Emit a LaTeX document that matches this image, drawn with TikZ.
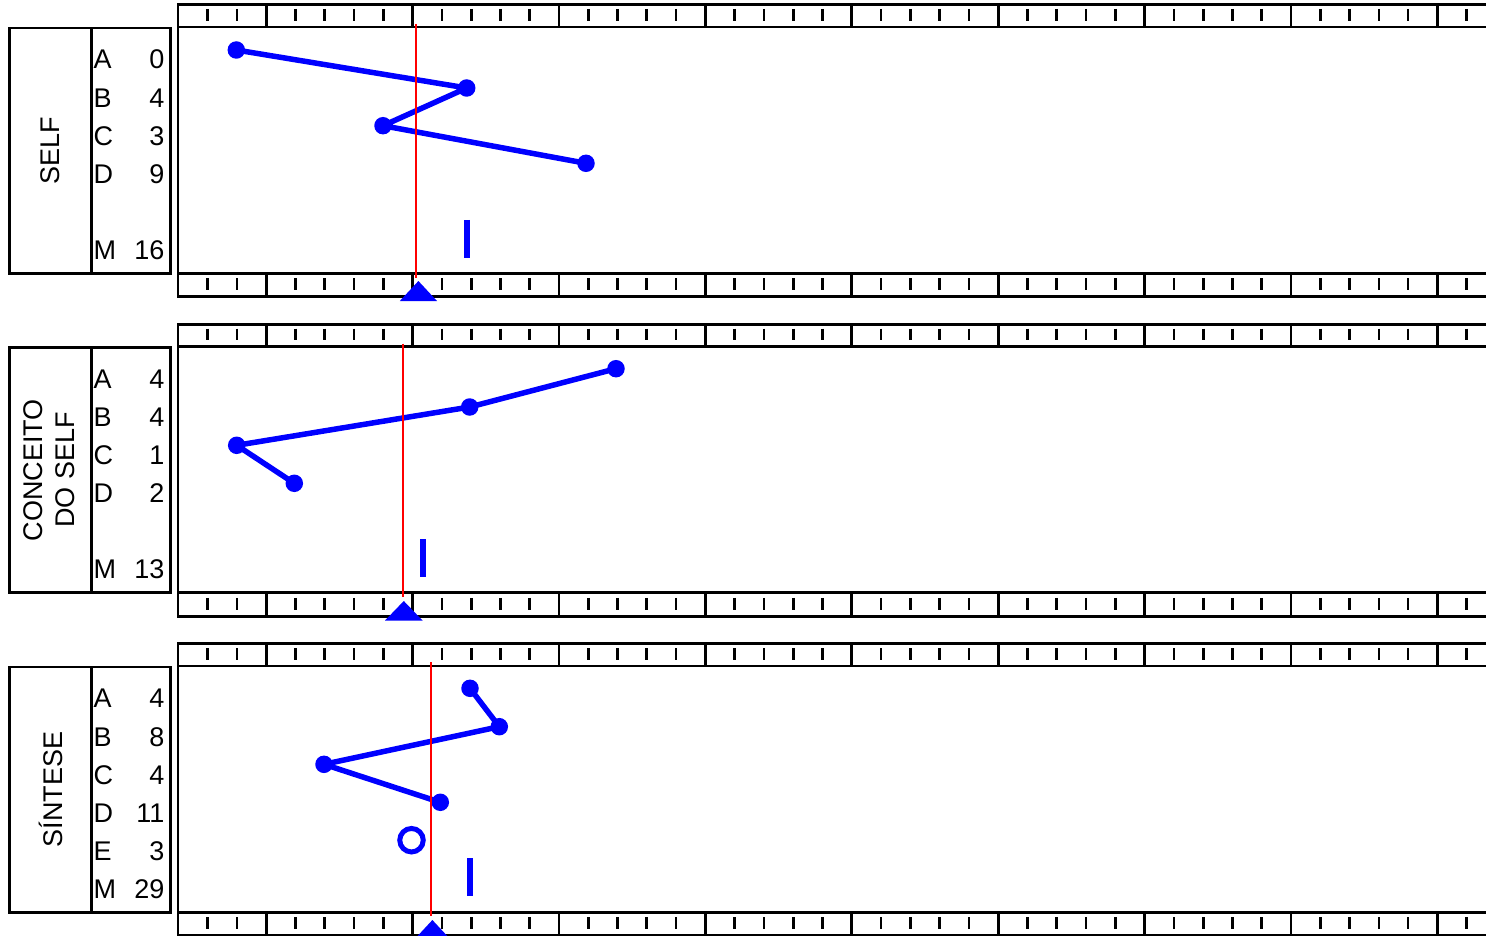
\documentclass[tikz,border=0pt]{standalone}
\usepackage{fontspec}
\setmainfont{Liberation Sans}
\begin{document}
\begin{tikzpicture}[x=1pt,y=-1pt,
  frame/.style={line width=2.7pt, draw=black},
  tickmark/.style={line width=2.7pt, draw=black},
  datal/.style={line width=5.5pt, draw=blue, line join=round},
  dot/.style={fill=blue, circle, inner sep=0pt, minimum size=17.5pt},
  ring/.style={draw=blue, line width=5pt, circle, inner sep=0pt, minimum size=23.5pt},
  redl/.style={draw=red, line width=2.2pt},
  meanbar/.style={draw=blue, line width=6pt},
  marker/.style={fill=blue},
  lbl/.style={font=\fontsize{27}{32.3}\selectfont, inner sep=0pt, text=black},
]
\clip (0,0) rectangle (1486,936);
\fill[white] (0,0) rectangle (1486,936);

% ---------- common frames, rulers and label boxes ----------
\foreach \o in {0,319.5,639} {
  \begin{scope}[shift={(0,\o)}]
    \draw[frame] (178,4.7) rectangle (1500,296.8);
    \draw[frame] (178,27) -- (1500,27);
    \draw[frame] (178,273.3) -- (1500,273.3);
    \draw[frame] (9.7,28) rectangle (170.3,273.3);
    \draw[frame] (91.3,28) -- (91.3,273.3);
    \foreach \k in {0,...,8} {
      \draw[frame] ({266.2+146.4*\k},4.7) -- ++(0,22.3);
      \draw[frame] ({266.2+146.4*\k},273.3) -- ++(0,23.5);
    }
    \foreach \m in {-2,...,41} {
      \pgfmathtruncatemacro\r{mod(\m+10,5)}
      \ifnum\r=0\relax\else
        \draw[tickmark] ({266.2+29.28*\m},9) -- ++(0,11.7);
        \draw[tickmark] ({266.2+29.28*\m},278.3) -- ++(0,11.7);
      \fi
    }
  \end{scope}
}

% ---------- panel 1: SELF ----------
\node[lbl, rotate=90] (n1) at (50.5,150.7) {SELF};
\node[lbl, anchor=west] (l1a) at (93.5,59.7) {A};
\node[lbl, anchor=west] (l1b) at (93.5,97.8) {B};
\node[lbl, anchor=west] (l1c) at (93.5,135.9) {C};
\node[lbl, anchor=west] (l1d) at (93.5,174) {D};
\node[lbl, anchor=west] (l1m) at (93.5,250.2) {M};
\node[lbl, anchor=east] (v1a) at (164.5,59.7) {0};
\node[lbl, anchor=east] (v1b) at (164.5,97.8) {4};
\node[lbl, anchor=east] (v1c) at (164.5,135.9) {3};
\node[lbl, anchor=east] (v1d) at (164.5,174) {9};
\node[lbl, anchor=east] (v1m) at (164.5,250.2) {16};

\node[dot] (s1a) at (236.3,50) {};
\node[dot] (s1b) at (466.7,88) {};
\node[dot] (s1c) at (383,125.7) {};
\node[dot] (s1d) at (586,163.3) {};
\draw[datal] (s1a.center) -- (s1b.center) -- (s1c.center) -- (s1d.center);
\draw[meanbar] (467,220) -- (467,257.7);
\draw[redl] (416,24) -- (416,277.5);
\fill[marker] (418.4,281) -- (437,301) -- (399.8,301) -- cycle;

% ---------- panel 2: CONCEITO DO SELF ----------
\node[lbl, rotate=90, align=center] (n2) at (49,470.2) {CONCEITO\\DO SELF};
\node[lbl, anchor=west] (l2a) at (93.5,379.2) {A};
\node[lbl, anchor=west] (l2b) at (93.5,417.3) {B};
\node[lbl, anchor=west] (l2c) at (93.5,455.4) {C};
\node[lbl, anchor=west] (l2d) at (93.5,493.5) {D};
\node[lbl, anchor=west] (l2m) at (93.5,569.7) {M};
\node[lbl, anchor=east] (v2a) at (164.5,379.2) {4};
\node[lbl, anchor=east] (v2b) at (164.5,417.3) {4};
\node[lbl, anchor=east] (v2c) at (164.5,455.4) {1};
\node[lbl, anchor=east] (v2d) at (164.5,493.5) {2};
\node[lbl, anchor=east] (v2m) at (164.5,569.7) {13};

\node[dot] (s2a) at (616,368.7) {};
\node[dot] (s2b) at (469.7,407) {};
\node[dot] (s2c) at (236.7,445.3) {};
\node[dot] (s2d) at (294.3,483.3) {};
\draw[datal] (s2a.center) -- (s2b.center) -- (s2c.center) -- (s2d.center);
\draw[meanbar] (423,539.3) -- (423,576.9);
\draw[redl] (402.7,343.5) -- (402.7,596.5);
\fill[marker] (403.8,601) -- (422.5,620.5) -- (385,620.5) -- cycle;

% ---------- panel 3: SINTESE ----------
\node[lbl, rotate=90] (n3) at (50.5,789.7) {SÍNTESE};
\node[lbl, anchor=west] (l3a) at (93.5,698.7) {A};
\node[lbl, anchor=west] (l3b) at (93.5,736.8) {B};
\node[lbl, anchor=west] (l3c) at (93.5,774.9) {C};
\node[lbl, anchor=west] (l3d) at (93.5,813) {D};
\node[lbl, anchor=west] (l3e) at (93.5,851.1) {E};
\node[lbl, anchor=west] (l3m) at (93.5,889.2) {M};
\node[lbl, anchor=east] (v3a) at (164.5,698.7) {4};
\node[lbl, anchor=east] (v3b) at (164.5,736.8) {8};
\node[lbl, anchor=east] (v3c) at (164.5,774.9) {4};
\node[lbl, anchor=east] (v3d) at (164.5,813) {11};
\node[lbl, anchor=east] (v3e) at (164.5,851.1) {3};
\node[lbl, anchor=east] (v3m) at (164.5,889.2) {29};

\node[dot] (s3a) at (470,688.3) {};
\node[dot] (s3b) at (499.3,726.7) {};
\node[dot] (s3c) at (324,764.3) {};
\node[dot] (s3d) at (440.3,802.3) {};
\node[ring] (s3e) at (411.5,840.2) {};
\draw[datal] (s3a.center) -- (s3b.center) -- (s3c.center) -- (s3d.center);
\draw[meanbar] (470,858.3) -- (470,895.7);
\draw[redl] (431,662) -- (431,915.5);
\fill[marker] (432.4,920) -- (451,940) -- (413.8,940) -- cycle;
\end{tikzpicture}
\end{document}
